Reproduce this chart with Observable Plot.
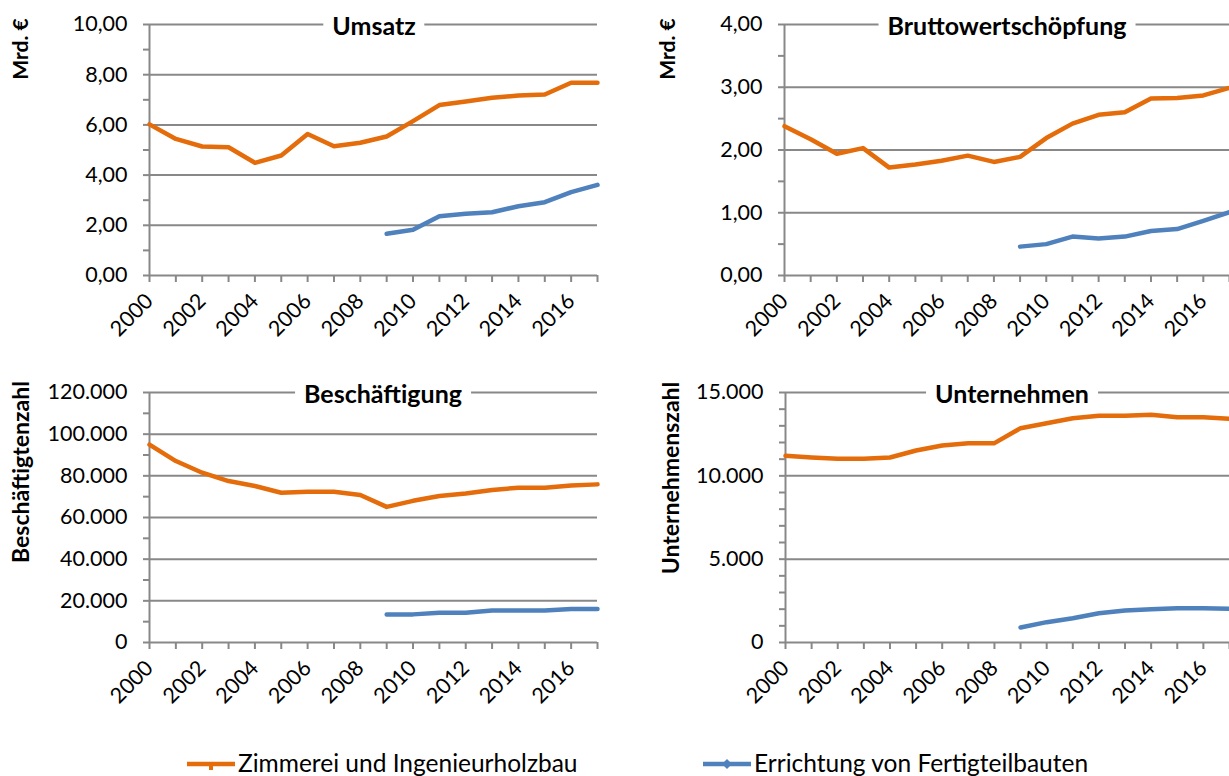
<!DOCTYPE html>
<html><head><meta charset="utf-8">
<script src="https://cdn.jsdelivr.net/npm/d3@7"></script>
<script src="https://cdn.jsdelivr.net/npm/@observablehq/plot@0.6"></script>
<style>
body{margin:0;background:#fff;font-family:Lato,sans-serif;}
#root{position:relative;width:1229px;height:776px;overflow:hidden;background:#fff;}
.panel{position:absolute;}
.title{position:absolute;background:#fff;font-weight:bold;font-size:25px;padding:2px 9px;transform:translate(-50%,-50%);white-space:nowrap;line-height:1;color:#000}
.ylab{position:absolute;font-weight:bold;font-size:23px;transform:translate(-50%,-50%) rotate(-90deg);white-space:nowrap;line-height:1;color:#000}
.leg{position:absolute;font-size:24.5px;white-space:nowrap;line-height:1;color:#000}
</style></head><body><div id="root"></div>
<script>
// ---- Data ----
const yearsZim = [2000,2001,2002,2003,2004,2005,2006,2007,2008,2009,2010,2011,2012,2013,2014,2015,2016,2017];
const yearsFert = [2009,2010,2011,2012,2013,2014,2015,2016,2017];
const labelYears = [2000,2002,2004,2006,2008,2010,2012,2014,2016];

const umsatzZim = [6.02,5.44,5.14,5.11,4.49,4.78,5.64,5.15,5.29,5.54,6.15,6.79,6.93,7.08,7.17,7.21,7.68,7.68];
const umsatzFert = [1.66,1.82,2.36,2.46,2.52,2.76,2.92,3.32,3.61];

const bwsZim = [2.38,2.17,1.94,2.03,1.72,1.77,1.83,1.91,1.81,1.89,2.19,2.42,2.56,2.60,2.82,2.83,2.87,2.99];
const bwsFert = [0.46,0.50,0.62,0.59,0.62,0.71,0.74,0.87,1.01];

const beschZim = [95000,87100,81500,77500,75100,71900,72400,72400,70800,65100,68000,70300,71500,73200,74300,74300,75400,75900];
const beschFert = [13500,13500,14300,14300,15400,15400,15400,16100,16100];

const untZim = [11200,11100,11020,11020,11100,11520,11820,11960,11960,12860,13160,13460,13600,13600,13660,13520,13520,13420];
const untFert = [900,1220,1460,1760,1920,2000,2060,2060,2020];

const seriesNames = ["Zimmerei und Ingenieurholzbau","Errichtung von Fertigteilbauten"];
const titles = ["Umsatz","Bruttowertschöpfung","Beschäftigung","Unternehmen"];
const yLabels = ["Mrd. €","Mrd. €","Beschäftigtenzahl","Unternehmenszahl"];

const ORANGE = "#E46C0A", BLUE = "#4F81BD", GRID = "#888888";
const root = document.getElementById("root");

const fmtDec = d => d.toFixed(2).replace(".", ",");
const fmtThou = d => d === 0 ? "0" : d3.format(",")(d).replace(/,/g, ".");

function panel(o) {
  const zim = yearsZim.map((y,i)=>({year:y, value:o.zim[i]}));
  const fert = yearsFert.map((y,i)=>({year:y, value:o.fert[i]}));
  const svg = Plot.plot({
    width:o.width, height:o.height,
    marginLeft:o.ml, marginRight:o.mr, marginTop:o.mt, marginBottom:o.mb,
    x:{domain:[2000,2017], axis:null, label:null},
    y:{domain:o.domain, axis:null, label:null},
    style:{fontFamily:"Lato, sans-serif", fontSize:"21.5px", color:"#000", background:"transparent", overflow:"visible"},
    marks:[
      Plot.gridY(o.grid, {stroke:GRID, strokeOpacity:1, strokeWidth:2}),
      Plot.ruleX([2000], {stroke:GRID, strokeWidth:2}),
      Plot.axisY(o.minor, {tickSize:6, tickFormat:()=>"", label:null, stroke:GRID, strokeWidth:2}),
      Plot.axisY(o.grid, {tickSize:0, tickPadding:22, tickFormat:o.fmt, label:null, fill:"#000"}),
      Plot.axisX(yearsZim, {tickSize:7, tickFormat:()=>"", label:null, stroke:GRID, strokeWidth:2}),
      Plot.axisX(labelYears, {tickSize:0, tickRotate:-45, tickPadding:22, tickFormat:d=>String(d), label:null, fill:"#000"}),
      Plot.line(zim, {x:"year", y:"value", stroke:ORANGE, strokeWidth:4.5}),
      Plot.line(fert, {x:"year", y:"value", stroke:BLUE, strokeWidth:4.5})
    ]
  });
  const div = document.createElement("div");
  div.className = "panel";
  div.style.left = o.left + "px"; div.style.top = o.top + "px";
  div.appendChild(svg);
  root.appendChild(div);
}

panel({zim:umsatzZim, fert:umsatzFert, domain:[0,10], grid:[0,2,4,6,8,10], minor:d3.range(0,11,1), fmt:fmtDec,
  left:0, top:0, width:610, height:360, ml:149, mr:13, mt:24, mb:85});
panel({zim:bwsZim, fert:bwsFert, domain:[0,4], grid:[0,1,2,3,4], minor:d3.range(0,4.01,0.5), fmt:fmtDec,
  left:610, top:0, width:619, height:360, ml:174, mr:0, mt:24, mb:85});
panel({zim:beschZim, fert:beschFert, domain:[0,120000], grid:d3.range(0,120001,20000), minor:d3.range(0,120001,10000), fmt:fmtThou,
  left:0, top:370, width:610, height:360, ml:149, mr:13, mt:22, mb:88});
panel({zim:untZim, fert:untFert, domain:[0,15000], grid:[0,5000,10000,15000], minor:d3.range(0,15001,1000), fmt:fmtThou,
  left:610, top:370, width:619, height:360, ml:175, mr:0, mt:22, mb:88});

// titles on top gridline
const titlePos = [[374,25],[1007,25],[383,393],[1012,393]];
titles.forEach((t,i)=>{
  const d = document.createElement("div"); d.className="title"; d.textContent=t;
  d.style.left = titlePos[i][0]+"px"; d.style.top = titlePos[i][1]+"px";
  root.appendChild(d);
});
const ylabPos = [[19,49],[666,49],[20,472],[670,478]];
yLabels.forEach((t,i)=>{
  const d = document.createElement("div"); d.className="ylab"; d.textContent=t;
  if (i < 2) d.style.fontSize = "21px";
  d.style.left = ylabPos[i][0]+"px"; d.style.top = ylabPos[i][1]+"px";
  root.appendChild(d);
});

// legend
const ns = "http://www.w3.org/2000/svg";
function legendItem(x, color, shape, text) {
  const s = document.createElementNS(ns, "svg");
  s.setAttribute("width", 52); s.setAttribute("height", 16);
  s.style.position = "absolute"; s.style.left = x + "px"; s.style.top = "756px";
  const l = document.createElementNS(ns, "line");
  l.setAttribute("x1", 2); l.setAttribute("x2", 50); l.setAttribute("y1", 8); l.setAttribute("y2", 8);
  l.setAttribute("stroke", color); l.setAttribute("stroke-width", 4.5);
  s.appendChild(l);
  const m = document.createElementNS(ns, "path");
  if (shape === "plus") {
    m.setAttribute("d", "M26,8 L26,14");
    m.setAttribute("stroke", color); m.setAttribute("stroke-width", 4);
  } else {
    m.setAttribute("d", "M26,3 L31,8 L26,13 L21,8 Z");
    m.setAttribute("fill", color);
  }
  s.appendChild(m);
  root.appendChild(s);
  const t = document.createElement("div"); t.className = "leg"; t.textContent = text;
  t.style.left = (x + 53) + "px"; t.style.top = "751px";
  root.appendChild(t);
}
legendItem(185, ORANGE, "plus", seriesNames[0]);
legendItem(701, BLUE, "diamond", seriesNames[1]);
</script>
</body></html>
